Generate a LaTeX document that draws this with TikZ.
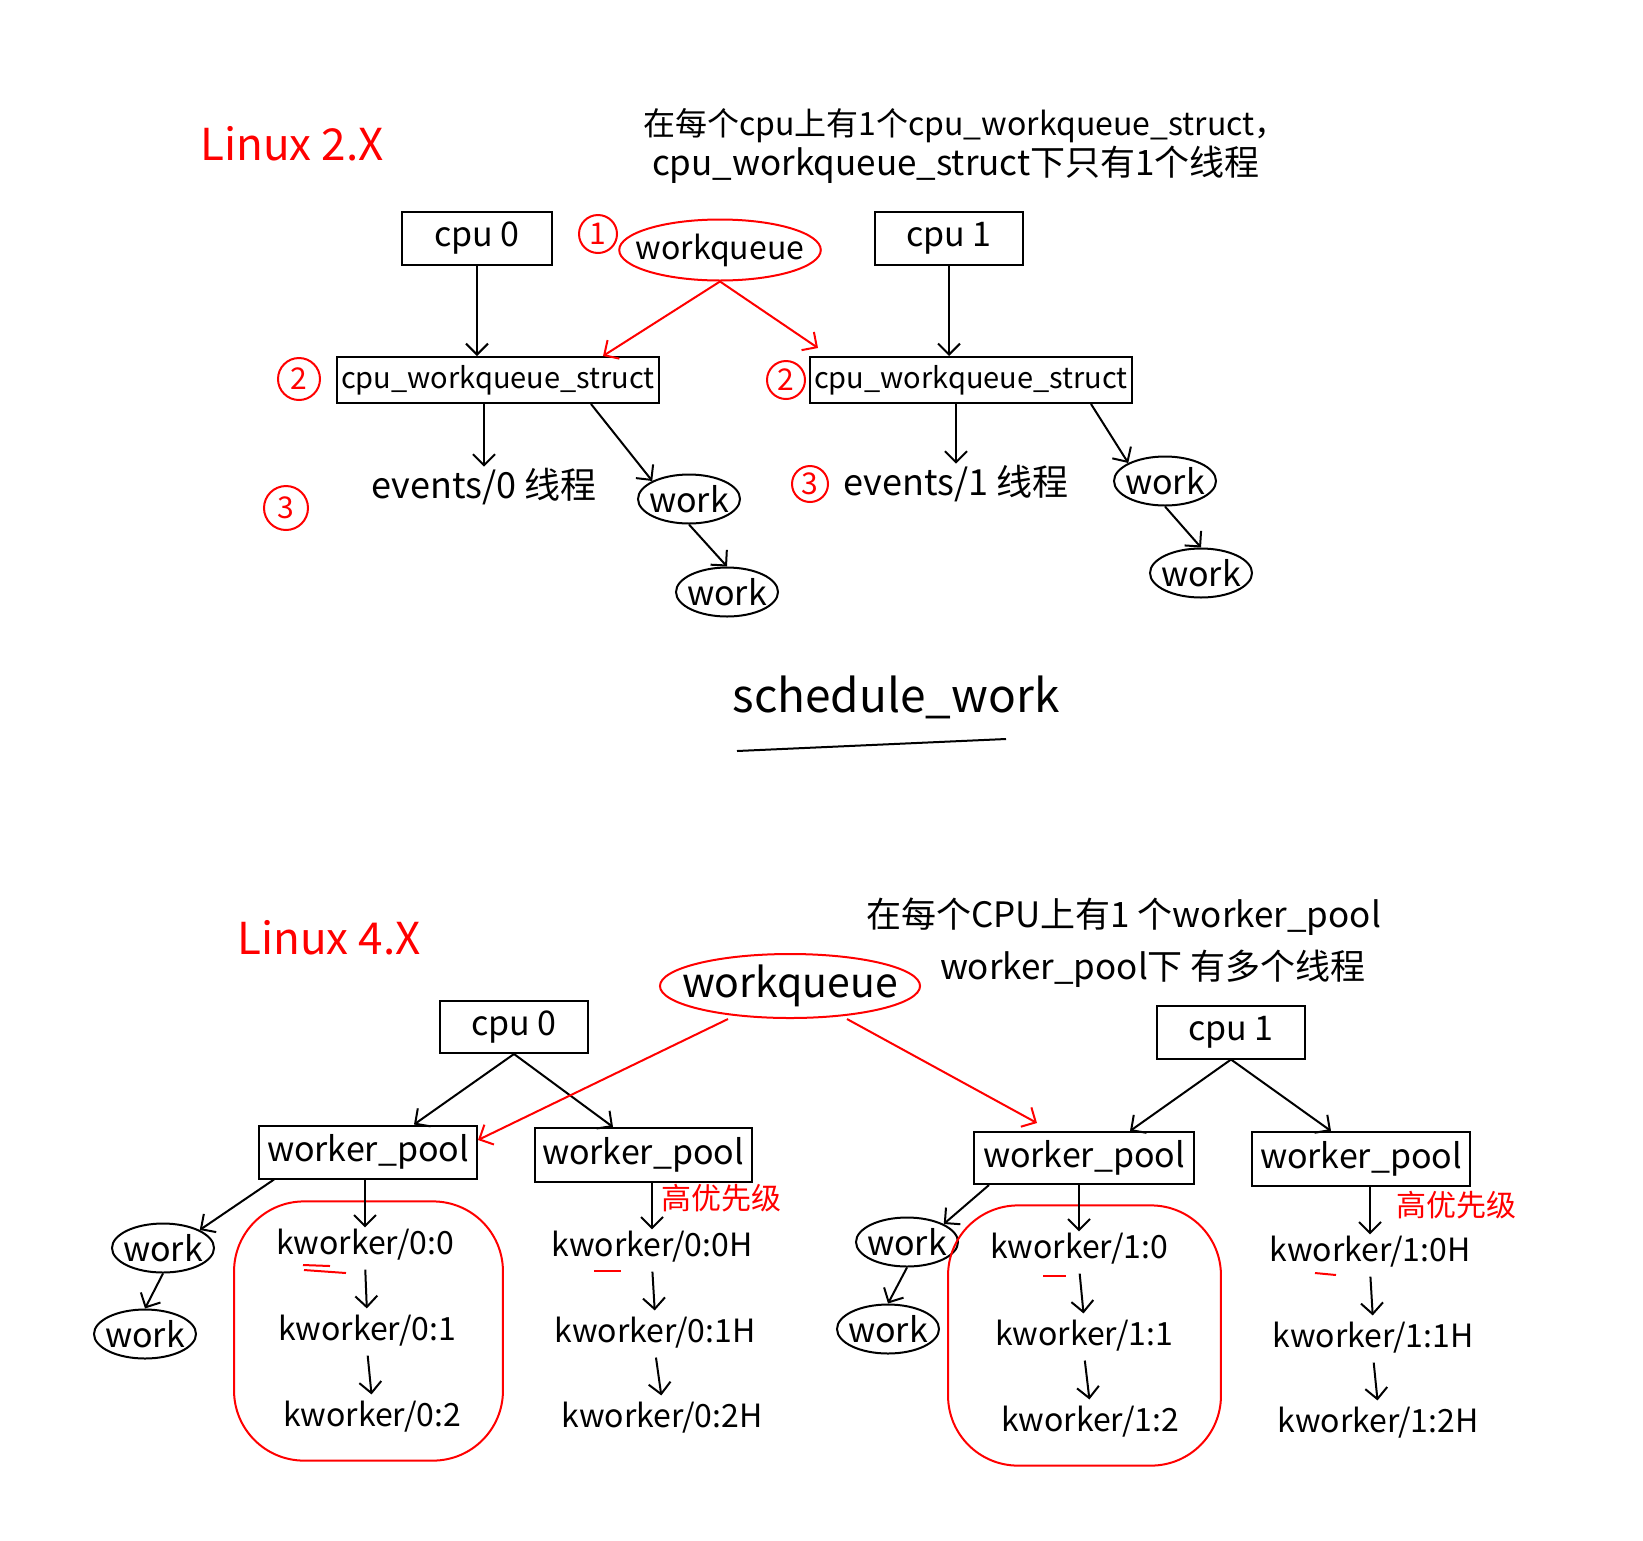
\documentclass[tikz,border=0pt]{standalone}
\usepackage{fontspec}
\setmainfont{Noto Sans CJK SC}
\usetikzlibrary{shapes.geometric,fit,arrows.meta}

\begin{document}
\begin{tikzpicture}[x=1pt, y=-1pt, line width=2pt,
  hand/.style={font=\fontsize{#1}{#1}\selectfont, inner sep=1pt},
  box/.style={draw, rectangle, inner sep=0pt, font=\fontsize{#1}{#1}\selectfont},
  wk/.style={draw, ellipse, inner xsep=-9pt, inner ysep=0pt, minimum width=102, minimum height=49, font=\fontsize{34}{34}\selectfont},
  oval/.style={draw=red, ellipse, inner xsep=#1, inner ysep=0pt},
  num/.style={draw=red, text=red, circle, inner sep=0pt, minimum size=#1, font=\fontsize{30}{30}\selectfont},
  arr/.style={-{Straight Barb[length=11pt,width=22pt]}},
  karr/.style={arr, shorten <=7pt, shorten >=5pt},
  blob/.style={draw=red, rounded corners=70pt, inner xsep=40pt, inner ysep=26pt}]
\useasboundingbox (0,0) rectangle (1643,1540);

\node[hand=44, text=red] (l2) at (292,144) {Linux 2.X};
\node[hand=32, anchor=west] (note0) at (641,126) {在每个cpu上有1个cpu\_workqueue\_struct，};
\node[hand=35, anchor=west] (note1) at (650,165) {cpu\_workqueue\_struct下只有1个线程};
\node[box=34, minimum width=150, minimum height=53] (cpu0) at (477,238) {cpu 0};
\node[box=34, minimum width=148, minimum height=53] (cpu1) at (949,238) {cpu 1};
\node[num=38] (n1) at (598,234) {1};
\node[hand=32, oval=-13pt, minimum width=194, minimum height=61] (wq0) at (720,250) {workqueue};
\node[box=29, minimum width=322, minimum height=46] (cws0) at (498,380) {cpu\_workqueue\_struct};
\node[box=29, minimum width=322, minimum height=46] (cws1) at (971,380) {cpu\_workqueue\_struct};
\node[num=42] (n2a) at (299,379) {2};
\node[num=38] (n2b) at (786,380) {2};
\node[hand=36] (ev0) at (484,487) {events/0 线程};
\node[hand=36] (ev1) at (956,484) {events/1 线程};
\node[num=44] (n3a) at (286,508) {3};
\node[num=36] (n3b) at (810,484) {3};
\node[wk] (w0a) at (689,499) {work};
\node[wk] (w0b) at (727,592) {work};
\node[wk] (w1a) at (1165,481) {work};
\node[wk] (w1b) at (1201,573) {work};
\node[hand=46] (sw) at (896,697) {schedule\_work};

\draw[arr] (cpu0.south) -- (cpu0.south |- cws0.north);
\draw[arr] (cpu1.south) -- (cpu1.south |- cws1.north);
\draw[arr, red] (wq0.south) -- ([xshift=-57pt]cws0.north east);
\draw[arr, red] (wq0.south) -- ([xshift=9pt, yshift=8pt]cws1.north west);
\draw[arr] (cws0.south -| ev0.north) -- (ev0.north);
\draw[arr] (cws1.south -| ev1.north) -- (ev1.north);
\draw[arr] ([xshift=-69pt]cws0.south east) -- (w0a.north west);
\draw[arr] (w0a.south) -- (w0b.north);
\draw[arr] ([xshift=-42pt]cws1.south east) -- (w1a.north west);
\draw[arr] (w1a.south) -- (w1b.north);
\draw (737,751) -- (1006,739);

\node[hand=44, text=red] (l4) at (329,938) {Linux 4.X};
\node[hand=35, anchor=west] (note2) at (864,917) {在每个CPU上有1 个worker\_pool};
\node[hand=35, anchor=west] (note3) at (938,969) {worker\_pool下 有多个线程};
\node[hand=41, oval=-16pt, minimum width=249, minimum height=64] (wq1) at (790,986) {workqueue};
\node[box=34, minimum width=148, minimum height=52] (bcpu0) at (514,1027) {cpu 0};
\node[box=34, minimum width=148, minimum height=53] (bcpu1) at (1231,1032) {cpu 1};
\node[box=34, minimum width=218, minimum height=53] (wp0a) at (368,1152) {worker\_pool};
\node[box=34, minimum width=217, minimum height=54] (wp0b) at (643,1155) {worker\_pool};
\node[box=34, minimum width=220, minimum height=52] (wp1a) at (1084,1158) {worker\_pool};
\node[box=34, minimum width=218, minimum height=54] (wp1b) at (1361,1159) {worker\_pool};
\node[wk] (bw0a) at (163,1248) {work};
\node[wk] (bw0b) at (145,1334) {work};
\node[wk] (bw1a) at (907,1242) {work};
\node[wk] (bw1b) at (888,1329) {work};
\node[hand=32] (k00) at (365,1245) {kworker/0:0};
\node[hand=32] (k01) at (367,1331) {kworker/0:1};
\node[hand=32] (k02) at (372,1417) {kworker/0:2};
\node[hand=32] (k00h) at (652,1247) {kworker/0:0H};
\node[hand=32] (k01h) at (655,1333) {kworker/0:1H};
\node[hand=32] (k02h) at (662,1418) {kworker/0:2H};
\node[hand=32] (k10) at (1079,1249) {kworker/1:0};
\node[hand=32] (k11) at (1084,1336) {kworker/1:1};
\node[hand=32] (k12) at (1090,1422) {kworker/1:2};
\node[hand=32] (k10h) at (1370,1252) {kworker/1:0H};
\node[hand=32] (k11h) at (1373,1338) {kworker/1:1H};
\node[hand=32] (k12h) at (1378,1423) {kworker/1:2H};
\node[hand=30, text=red] (hp0) at (721,1198) {高优先级};
\node[hand=30, text=red] (hp1) at (1456,1205) {高优先级};
\node[blob, fit=(k00)(k02)] (pool0) {};
\node[blob, fit=(k10)(k12)] (pool1) {};

\draw[arr] (bcpu0.south) -- ([xshift=46pt]wp0a.north);
\draw[arr] (bcpu0.south) -- ([xshift=-30pt]wp0b.north);
\draw[arr] (bcpu1.south) -- ([xshift=46pt]wp1a.north);
\draw[arr] (bcpu1.south) -- ([xshift=-30pt]wp1b.north);
\draw[arr, red] ([xshift=-62pt]wq1.south) -- ([yshift=12pt]wp0a.east);
\draw[arr, red] ([xshift=57pt]wq1.south) -- ([xshift=-47pt, yshift=8pt]wp1a.north);
\draw[arr] ([xshift=16pt]wp0a.south west) -- (bw0a.north east);
\draw[arr] (bw0a.south) -- (bw0b.north);
\draw[arr] ([xshift=16pt]wp1a.south west) -- (bw1a.north east);
\draw[arr] (bw1a.south) -- (bw1b.north);
\draw[arr] (wp0a.south -| k00.north) -- (k00.north);
\draw[karr] (k00.south) -- (k01.north);
\draw[karr] (k01.south) -- (k02.north);
\draw[arr] (wp0b.south -| k00h.north) -- (k00h.north);
\draw[karr] (k00h.south) -- (k01h.north);
\draw[karr] (k01h.south) -- (k02h.north);
\draw[arr] (wp1a.south -| k10.north) -- (k10.north);
\draw[karr] (k10.south) -- (k11.north);
\draw[karr] (k11.south) -- (k12.north);
\draw[arr] (wp1b.south -| k10h.north) -- (k10h.north);
\draw[karr] (k10h.south) -- (k11h.north);
\draw[karr] (k11h.south) -- (k12h.north);
\draw[red] (304,1270) -- (346,1273) (303,1265) -- (330,1266);
\draw[red] (594,1271) -- (621,1271);
\draw[red] (1043,1276) -- (1066,1276);
\draw[red] (1315,1273) -- (1336,1275);
\end{tikzpicture}
\end{document}
